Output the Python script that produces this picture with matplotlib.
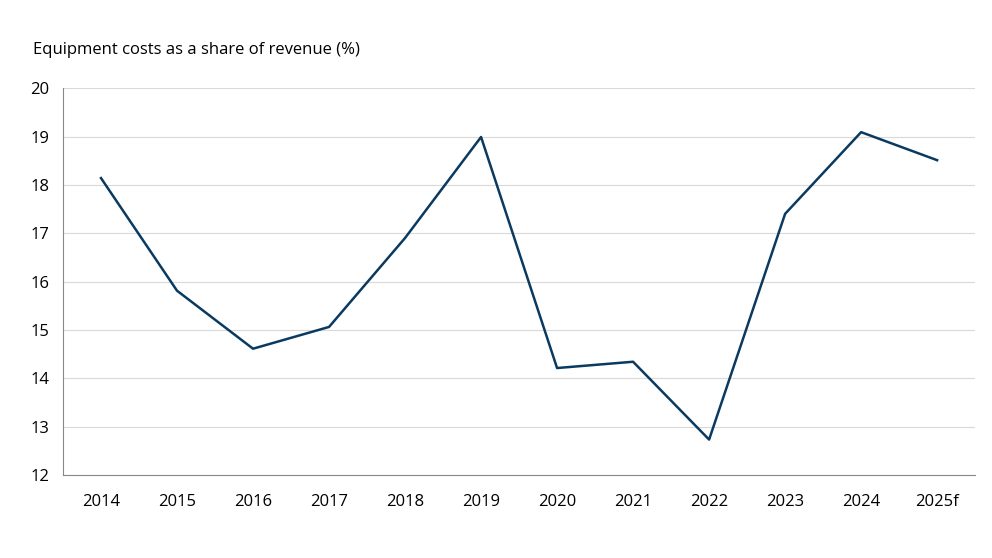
import matplotlib.pyplot as plt

years = ["2014", "2015", "2016", "2017", "2018", "2019", "2020", "2021", "2022", "2023", "2024", "2025f"]
share = [18.14, 15.81, 14.61, 15.06, 16.90, 18.99, 14.21, 14.34, 12.73, 17.40, 19.09, 18.51]

plt.rcParams["font.family"] = ["Open Sans", "DejaVu Sans"]

fig = plt.figure(figsize=(9.92, 5.58), dpi=100)
ax = fig.add_axes([0.0635, 0.149, 0.9195, 0.693])

ax.plot(range(len(years)), share, color="#0b3a60", linewidth=1.8)

ax.set_xlim(-0.5, len(years) - 0.5)
ax.set_ylim(12, 20)
ax.set_xticks(range(len(years)))
ax.set_xticklabels(years)
ax.set_yticks(range(12, 21))
ax.tick_params(axis="both", labelsize=12, length=0, colors="black")
ax.tick_params(axis="x", pad=14)
ax.tick_params(axis="y", pad=10)

ax.set_axisbelow(True)
ax.grid(axis="y", color="#d9d9d9", linewidth=0.8)
for side in ["top", "right"]:
    ax.spines[side].set_visible(False)
ax.spines["left"].set_color("#888888")
ax.spines["bottom"].set_color("#888888")

fig.text(0.033, 0.91, "Equipment costs as a share of revenue (%)", fontsize=12, va="center")

fig.savefig("out.png", dpi=100)
